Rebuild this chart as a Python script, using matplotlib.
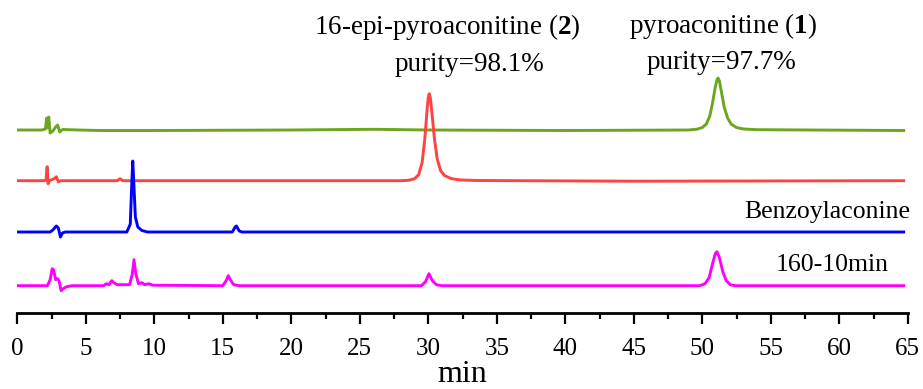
import matplotlib
matplotlib.use("Agg")
import matplotlib.pyplot as plt
from matplotlib.ticker import MultipleLocator

plt.rcParams['font.family'] = ['Liberation Serif', 'DejaVu Serif']
plt.rcParams['mathtext.fontset'] = 'custom'
plt.rcParams['mathtext.rm'] = 'Liberation Serif'
plt.rcParams['mathtext.bf'] = 'Liberation Serif:bold'

# chromatograms: (time in min, signal above own baseline)
# pyroaconitine (1) fraction - green
t_green = [0, 1.8, 2.05, 2.15, 2.22, 2.3, 2.4, 2.6, 2.8, 2.95, 3.1, 3.3, 4.5, 6, 10, 20, 26, 30,
           40, 49.0, 49.6, 50.0, 50.3, 50.55, 50.75, 50.95, 51.07, 51.15, 51.25, 51.4, 51.6,
           51.85, 52.1, 52.5, 53.0, 54.0, 64.7]
s_green = [0, 0, 1, 12, 2, 13, -3, -1, 3, 5, -2, 0.5, 0, -0.5, -0.5, 0, 0.7, 0,
           -0.5, 0, 0.8, 2.5, 6, 14, 27, 43, 50, 52, 49, 38, 23,
           12, 6, 2.5, 1, 0.3, -0.5]

# 16-epi-pyroaconitine (2) fraction - red
t_red = [0, 1.9, 2.1, 2.18, 2.25, 2.35, 2.7, 2.85, 3.0, 3.2, 7.3, 7.5, 7.7, 28.0, 28.6, 29.0,
         29.3, 29.55, 29.75, 29.92, 30.0, 30.07, 30.15, 30.28, 30.45, 30.65, 30.9, 31.2, 31.7,
         32.3, 33.5, 45, 64.7]
s_red = [0, 0, 0.5, 14, -3, 0, 2, 4, -1, 0, 0, 2, 0, 0, 0.5, 2,
         6, 18, 42, 72, 83, 87, 83, 66, 42, 22, 10, 5, 2,
         0.8, 0.2, -0.5, 0]

# Benzoylaconine - blue
t_blue = [0, 2.4, 2.6, 2.85, 3.0, 3.15, 3.3, 3.5, 8.0, 8.25, 8.35, 8.43, 8.52, 8.62, 8.8, 9.1,
          9.5, 15.7, 15.9, 16.0, 16.2, 16.4, 64.7]
s_blue = [0, 0, 2, 6, 4, -5, -1, 0, 0, 8, 45, 71, 45, 15, 5, 1.5,
          0, 0, 5, 6, 1, 0, 0]

# 160-10min crude sample - magenta
t_pink = [0, 2.2, 2.4, 2.55, 2.65, 2.8, 2.95, 3.05, 3.2, 3.35, 3.6, 4, 6.3, 6.5, 6.7, 6.9, 7.05,
          7.3, 8.2, 8.4, 8.52, 8.65, 8.85, 9.1, 9.3, 9.6, 9.9, 15.0, 15.25, 15.4, 15.55, 15.8,
          16.2, 29.5, 29.8, 30.05, 30.3, 30.6, 31, 49.8, 50.2, 50.5, 50.75, 50.95, 51.07, 51.25,
          51.5, 51.75, 52.05, 52.4, 64.7]
s_pink = [0, 0, 6, 17, 16, 6, 7, 5, -5, -3, -1, 0, 0, 2, 1, 5, 3,
          1, 1, 12, 26, 12, 2, 3, 1, 2, 0.5, 0, 5, 10, 6, 1,
          0, 0, 4, 12, 5, 1, 0, 0, 2, 8, 22, 32, 34, 28,
          14, 5, 1, 0, 0]

ticks = list(range(0, 66, 5))

fig = plt.figure(figsize=(9.23, 3.89), dpi=100)
ax = fig.add_axes([0.0187, 0.1946, 0.9648, 0.8054])

# vertical stacking of the traces (pixel-like units)
traces = [
    (t_green, s_green, 183.3, '#6aa61e'),
    (t_red, s_red, 132.6, '#ff4242'),
    (t_blue, s_blue, 81.3, '#0000ff'),
    (t_pink, s_pink, 27.6, '#ff00ff'),
]
for t, s, off, c in traces:
    ax.plot(t, [v + off for v in s], color=c, lw=2.1, solid_joinstyle='round')

fs = 19.5
ax.text(31.4, 286, r'16-epi-pyroaconitine ($\mathbf{2}$)', ha='center', va='center', fontsize=fs)
ax.text(33.0, 249, 'purity=98.1%', ha='center', va='center', fontsize=fs)
ax.text(51.5, 287, r'pyroaconitine ($\mathbf{1}$)', ha='center', va='center', fontsize=fs)
ax.text(51.4, 251, 'purity=97.7%', ha='center', va='center', fontsize=fs)
ax.text(59.1, 101, 'Benzoylaconine', ha='center', va='center', fontsize=18.5)
ax.text(59.5, 48, '160-10min', ha='center', va='center', fontsize=18.5)

ax.set_xlim(0, 65)
ax.set_ylim(0, 313.3)
ax.set_xticks(ticks)
ax.xaxis.set_minor_locator(MultipleLocator(2.5))
ax.tick_params(axis='x', which='major', direction='out', length=8, width=1.6, labelsize=18, pad=10)
ax.tick_params(axis='x', which='minor', direction='out', length=4.5, width=1.6)
ax.set_yticks([])
for side in ['top', 'left', 'right']:
    ax.spines[side].set_visible(False)
ax.spines['bottom'].set_linewidth(2)
ax.set_xlabel('min', fontsize=23, labelpad=0)

fig.savefig('out.png', dpi=100)
